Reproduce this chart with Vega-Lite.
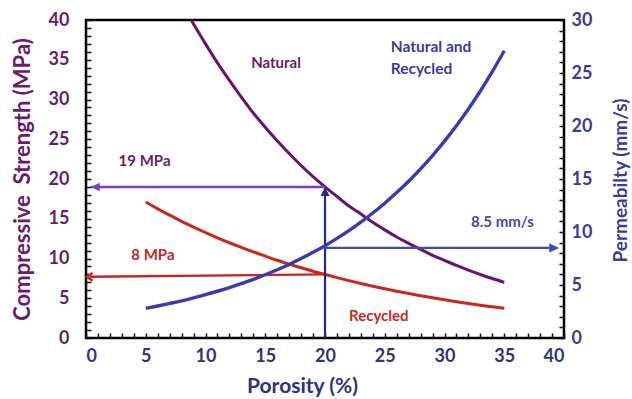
{
  "$schema": "https://vega.github.io/schema/vega-lite/v6.json",
  "width": 478,
  "height": 318,
  "autosize": "none",
  "padding": {"left": 86, "top": 20, "right": 68, "bottom": 61},
  "background": "white",
  "config": {
    "font": "Lato",
    "view": {"stroke": "black", "strokeWidth": 2.5},
    "axis": {"grid": false, "domain": false, "zindex": 1, "ticks": true, "labelOverlap": false, "tickCount": 100, "labelFont": "Lato", "titleFont": "Lato", "labelFontWeight": "bold", "titleFontWeight": "bold", "tickColor": "#111111", "tickWidth": 1.5, "tickOpacity": 1}
  },
  "datasets": {
    "strength": [
      {"series": "Natural", "x": 8.8, "y": 40}, {"series": "Natural", "x": 10, "y": 37.0}, {"series": "Natural", "x": 11, "y": 34.6},
      {"series": "Natural", "x": 12, "y": 32.4}, {"series": "Natural", "x": 13, "y": 30.3}, {"series": "Natural", "x": 14, "y": 28.3},
      {"series": "Natural", "x": 15, "y": 26.5}, {"series": "Natural", "x": 16, "y": 24.8}, {"series": "Natural", "x": 17, "y": 23.2},
      {"series": "Natural", "x": 18, "y": 21.7}, {"series": "Natural", "x": 19, "y": 20.3}, {"series": "Natural", "x": 20, "y": 19.0},
      {"series": "Natural", "x": 21, "y": 17.8}, {"series": "Natural", "x": 22, "y": 16.6}, {"series": "Natural", "x": 23, "y": 15.6},
      {"series": "Natural", "x": 24, "y": 14.55}, {"series": "Natural", "x": 25, "y": 13.6}, {"series": "Natural", "x": 26, "y": 12.7},
      {"series": "Natural", "x": 27, "y": 11.9}, {"series": "Natural", "x": 28, "y": 11.15}, {"series": "Natural", "x": 29, "y": 10.4},
      {"series": "Natural", "x": 30, "y": 9.76}, {"series": "Natural", "x": 31, "y": 9.13}, {"series": "Natural", "x": 32, "y": 8.54},
      {"series": "Natural", "x": 33, "y": 7.99}, {"series": "Natural", "x": 34, "y": 7.48}, {"series": "Natural", "x": 35, "y": 7.0},
      {"series": "Recycled", "x": 5, "y": 17.1}, {"series": "Recycled", "x": 6, "y": 16.25}, {"series": "Recycled", "x": 7, "y": 15.45},
      {"series": "Recycled", "x": 8, "y": 14.68}, {"series": "Recycled", "x": 9, "y": 13.96}, {"series": "Recycled", "x": 10, "y": 13.27},
      {"series": "Recycled", "x": 11, "y": 12.6}, {"series": "Recycled", "x": 12, "y": 11.98}, {"series": "Recycled", "x": 13, "y": 11.4},
      {"series": "Recycled", "x": 14, "y": 10.83}, {"series": "Recycled", "x": 15, "y": 10.3}, {"series": "Recycled", "x": 16, "y": 9.78},
      {"series": "Recycled", "x": 17, "y": 9.3}, {"series": "Recycled", "x": 18, "y": 8.84}, {"series": "Recycled", "x": 19, "y": 8.4},
      {"series": "Recycled", "x": 20, "y": 8.0}, {"series": "Recycled", "x": 21, "y": 7.6}, {"series": "Recycled", "x": 22, "y": 7.22},
      {"series": "Recycled", "x": 23, "y": 6.86}, {"series": "Recycled", "x": 24, "y": 6.52}, {"series": "Recycled", "x": 25, "y": 6.2},
      {"series": "Recycled", "x": 26, "y": 5.89}, {"series": "Recycled", "x": 27, "y": 5.6}, {"series": "Recycled", "x": 28, "y": 5.32},
      {"series": "Recycled", "x": 29, "y": 5.06}, {"series": "Recycled", "x": 30, "y": 4.81}, {"series": "Recycled", "x": 31, "y": 4.57},
      {"series": "Recycled", "x": 32, "y": 4.34}, {"series": "Recycled", "x": 33, "y": 4.13}, {"series": "Recycled", "x": 34, "y": 3.93},
      {"series": "Recycled", "x": 35, "y": 3.73}
    ],
    "permeability": [
      {"x": 5, "y": 2.8}, {"x": 6, "y": 3.02}, {"x": 7, "y": 3.26}, {"x": 8, "y": 3.51}, {"x": 9, "y": 3.79},
      {"x": 10, "y": 4.09}, {"x": 11, "y": 4.41}, {"x": 12, "y": 4.76}, {"x": 13, "y": 5.13}, {"x": 14, "y": 5.53},
      {"x": 15, "y": 5.97}, {"x": 16, "y": 6.44}, {"x": 17, "y": 6.94}, {"x": 18, "y": 7.49}, {"x": 19, "y": 8.08},
      {"x": 20, "y": 8.71}, {"x": 21, "y": 9.4}, {"x": 22, "y": 10.13}, {"x": 23, "y": 10.93}, {"x": 24, "y": 11.79},
      {"x": 25, "y": 12.72}, {"x": 26, "y": 13.72}, {"x": 27, "y": 14.79}, {"x": 28, "y": 15.96}, {"x": 29, "y": 17.21},
      {"x": 30, "y": 18.57}, {"x": 31, "y": 20.03}, {"x": 32, "y": 21.6}, {"x": 33, "y": 23.3}, {"x": 34, "y": 25.13},
      {"x": 35, "y": 27.1}
    ],
    "strengthLabels": [
      {"x": 4.9, "y": 22.3, "text": "19 MPa", "color": "#6A1B6E"},
      {"x": 5.6, "y": 10.4, "text": "8 MPa", "color": "#C8281E"},
      {"x": 15.9, "y": 34.6, "text": "Natural", "color": "#6A1B6E"},
      {"x": 24.5, "y": 2.75, "text": "Recycled", "color": "#C8281E"}
    ]
  },
  "layer": [
    {
      "layer": [
        {
          "data": {"name": "strength"},
          "mark": {"type": "line", "strokeWidth": 3, "interpolate": "monotone"},
          "encoding": {
            "x": {
              "field": "x", "type": "quantitative",
              "scale": {"domain": [0, 40], "nice": false, "zero": false},
              "axis": {
                "orient": "bottom",
                "offset": -5,
                "values": [0,1,2,3,4,5,6,7,8,9,10,11,12,13,14,15,16,17,18,19,20,21,22,23,24,25,26,27,28,29,30,31,32,33,34,35,36,37,38,39,40],
                "tickCount": 100,
                "tickSize": 5,
                "labelExpr": "datum.value % 5 === 0 ? format(datum.value, 'd') : ''",
                "labelPadding": 9,
                "labelFontSize": 18,
                "labelColor": "#2B3580",
                "title": "Porosity (%)",
                "titleFontSize": 21,
                "titleColor": "#2B3580",
                "titleX": 216,
                "titleY": 53,
                "titleBaseline": "middle"
              }
            },
            "y": {
              "field": "y", "type": "quantitative",
              "scale": {"domain": [0, 40], "nice": false, "zero": false},
              "axis": {
                "orient": "left",
                "offset": -5,
                "values": [0,1,2,3,4,5,6,7,8,9,10,11,12,13,14,15,16,17,18,19,20,21,22,23,24,25,26,27,28,29,30,31,32,33,34,35,36,37,38,39,40],
                "tickCount": 100,
                "tickSize": 5,
                "labelExpr": "datum.value % 5 === 0 ? format(datum.value, 'd') : ''",
                "labelPadding": 17,
                "labelFontSize": 18,
                "labelColor": "#6A1B6E",
                "title": "Compressive\u00a0 Strength (MPa)",
                "titleFontSize": 22,
                "titleColor": "#6A1B6E",
                "titleAngle": -90,
                "titleX": -69,
                "titleY": 159,
                "titleBaseline": "middle",
                "titleAlign": "center"
              }
            },
            "color": {
              "field": "series", "type": "nominal",
              "scale": {"domain": ["Natural", "Recycled"], "range": ["#6A1470", "#C8281E"]},
              "legend": null
            },
            "strokeWidth": {
              "field": "series", "type": "nominal",
              "scale": {"domain": ["Natural", "Recycled"], "range": [2.6, 3.4]},
              "legend": null
            }
          }
        },
        {
          "data": {"values": [{"x": 0.4, "x2": 20, "y": 19}]},
          "mark": {"type": "rule", "color": "#7E3FBF", "strokeWidth": 2.4},
          "encoding": {
            "x": {"field": "x", "type": "quantitative"},
            "x2": {"field": "x2"},
            "y": {"field": "y", "type": "quantitative"}
          }
        },
        {
          "data": {"values": [{"x": 0.3, "x2": 20, "y": 7.7, "y2": 8.0}]},
          "mark": {"type": "rule", "color": "#CC2222", "strokeWidth": 2.4},
          "encoding": {
            "x": {"field": "x", "type": "quantitative"},
            "x2": {"field": "x2"},
            "y": {"field": "y", "type": "quantitative"},
            "y2": {"field": "y2"}
          }
        },
        {
          "data": {"values": [{"x": 20, "y": 0, "y2": 18.4}]},
          "mark": {"type": "rule", "color": "#1F2D78", "strokeWidth": 2.2},
          "encoding": {
            "x": {"field": "x", "type": "quantitative"},
            "y": {"field": "y", "type": "quantitative"},
            "y2": {"field": "y2"}
          }
        },
        {
          "data": {"values": [{"x": 0.4, "y": 19}]},
          "mark": {"type": "point", "shape": "M 0 0 L 1 -0.47 L 1 0.47 Z", "size": 324, "filled": true, "color": "#7E3FBF", "opacity": 1},
          "encoding": {
            "x": {"field": "x", "type": "quantitative"},
            "y": {"field": "y", "type": "quantitative"}
          }
        },
        {
          "data": {"values": [{"x": 0.05, "y": 7.7}]},
          "mark": {"type": "point", "shape": "M 1 -0.65 L 0 0 L 1 0.65", "size": 144, "filled": false, "stroke": "#CC2222", "strokeWidth": 2.4, "opacity": 1},
          "encoding": {
            "x": {"field": "x", "type": "quantitative"},
            "y": {"field": "y", "type": "quantitative"}
          }
        },
        {
          "data": {"values": [{"x": 20, "y": 19}]},
          "mark": {"type": "point", "shape": "M 0 0 L -0.5 1 L 0.5 1 Z", "size": 324, "filled": true, "color": "#1F2D78", "opacity": 1},
          "encoding": {
            "x": {"field": "x", "type": "quantitative"},
            "y": {"field": "y", "type": "quantitative"}
          }
        },
        {
          "data": {"name": "strengthLabels"},
          "mark": {"type": "text", "font": "Lato", "fontWeight": "bold", "fontSize": 15, "align": "center", "baseline": "middle"},
          "encoding": {
            "x": {"field": "x", "type": "quantitative"},
            "y": {"field": "y", "type": "quantitative"},
            "text": {"field": "text"},
            "color": {"field": "color", "type": "nominal", "scale": null}
          }
        },
        {
          "data": {"values": [{"x": 25.5, "y": 36.6, "text": ["Natural and", "Recycled"]}]},
          "mark": {"type": "text", "font": "Lato", "fontWeight": "bold", "fontSize": 15.5, "align": "left", "baseline": "middle", "lineHeight": 21.6, "color": "#3B3BA0"},
          "encoding": {
            "x": {"field": "x", "type": "quantitative"},
            "y": {"field": "y", "type": "quantitative"},
            "text": {"field": "text"}
          }
        }
      ]
    },
    {
      "layer": [
        {
          "data": {"name": "permeability"},
          "mark": {"type": "line", "color": "#3B3BB0", "strokeWidth": 3.4, "interpolate": "monotone"},
          "encoding": {
            "x": {"field": "x", "type": "quantitative"},
            "y": {
              "field": "y", "type": "quantitative",
              "scale": {"domain": [0, 30], "nice": false, "zero": false},
              "axis": {
                "orient": "right",
                "offset": -5,
                "values": [0,1,2,3,4,5,6,7,8,9,10,11,12,13,14,15,16,17,18,19,20,21,22,23,24,25,26,27,28,29,30],
                "tickCount": 100,
                "tickSize": 5,
                "labelExpr": "datum.value % 5 === 0 ? format(datum.value, 'd') : ''",
                "labelPadding": 7,
                "labelFontSize": 18,
                "labelColor": "#3B3A9E",
                "title": "Permeabilty (mm/s)",
                "titleFontSize": 19,
                "titleColor": "#3B3A9E",
                "titleAngle": -90,
                "titleX": 61,
                "titleY": 160,
                "titleBaseline": "middle",
                "titleAlign": "center"
              }
            }
          }
        },
        {
          "data": {"values": [{"x": 20, "x2": 39.3, "y": 8.5}]},
          "mark": {"type": "rule", "color": "#3E4BB0", "strokeWidth": 2.4},
          "encoding": {
            "x": {"field": "x", "type": "quantitative"},
            "x2": {"field": "x2"},
            "y": {"field": "y", "type": "quantitative"}
          }
        },
        {
          "data": {"values": [{"x": 39.6, "y": 8.5}]},
          "mark": {"type": "point", "shape": "M 0 0 L -1 -0.47 L -1 0.47 Z", "size": 400, "filled": true, "color": "#3E4BB0", "opacity": 1},
          "encoding": {
            "x": {"field": "x", "type": "quantitative"},
            "y": {"field": "y", "type": "quantitative"}
          }
        },
        {
          "data": {"values": [{"x": 34.85, "y": 10.9, "text": "8.5 mm/s"}]},
          "mark": {"type": "text", "font": "Lato", "fontWeight": "bold", "fontSize": 15, "align": "center", "baseline": "middle", "color": "#3E4BB0"},
          "encoding": {
            "x": {"field": "x", "type": "quantitative"},
            "y": {"field": "y", "type": "quantitative"},
            "text": {"field": "text"}
          }
        }
      ]
    }
  ],
  "resolve": {"scale": {"y": "independent"}}
}
